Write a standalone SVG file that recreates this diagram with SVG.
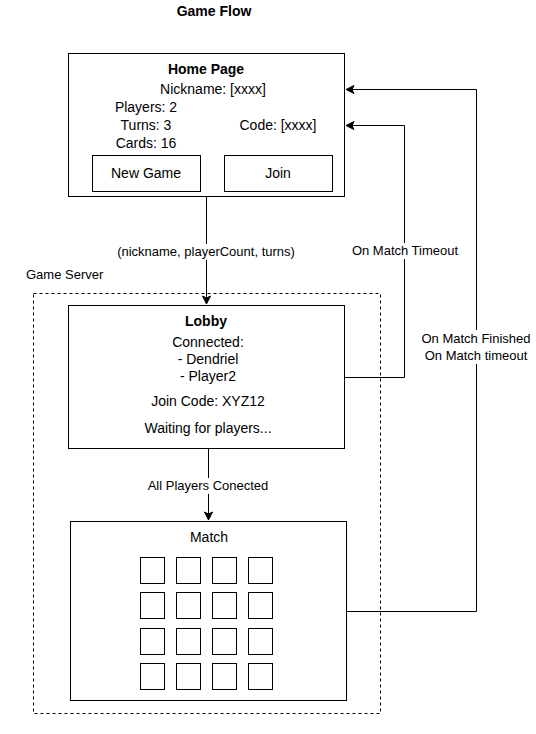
<svg xmlns="http://www.w3.org/2000/svg" width="536" height="734" viewBox="0 0 536 734">
<style>
text{font-family:"Liberation Sans",Arial,sans-serif;font-size:13px;fill:#000;text-anchor:middle}
.n text{font-size:14px}
.b{font-weight:bold}
.box{fill:#fff;stroke:#000;stroke-width:1}
.cell{fill:#fff;stroke:#000;stroke-width:1}
.ln{fill:none;stroke:#000;stroke-width:1}
.lbl{fill:#fff}
</style>
<defs>
<marker id="ar" markerWidth="10" markerHeight="10" refX="9" refY="5" orient="auto" markerUnits="userSpaceOnUse">
<path d="M1,1 L9,5 L1,9 L3,5 Z" fill="#000" stroke="#000"/>
</marker>
</defs>
<text class="b" x="214" y="16" style="font-size:14px">Game Flow</text>
<g id="game-server">
<rect x="33.5" y="293.5" width="347" height="420" fill="none" stroke="#000" stroke-dasharray="3 3"/>
<text x="26" y="279" style="text-anchor:start">Game Server</text>
</g>
<g id="home" class="n">
<rect class="box" x="68.5" y="53.5" width="276" height="143"/>
<text class="b" x="206" y="74">Home Page</text>
<text x="213" y="94">Nickname: [xxxx]</text>
<text x="146" y="112">Players: 2</text>
<text x="146" y="130">Turns: 3</text>
<text x="146" y="148">Cards: 16</text>
<text x="278" y="130">Code: [xxxx]</text>
<g id="btn-new"><rect class="box" x="92.5" y="155.5" width="108" height="36"/><text x="146" y="178">New Game</text></g>
<g id="btn-join"><rect class="box" x="224.5" y="155.5" width="108" height="36"/><text x="278" y="178">Join</text></g>
</g>
<g id="lobby" class="n">
<rect class="box" x="68.5" y="305.5" width="276" height="143"/>
<text class="b" x="206" y="326">Lobby</text>
<text x="208" y="347">Connected:</text>
<text x="208" y="364">- Dendriel</text>
<text x="208" y="381">- Player2</text>
<text x="208" y="406">Join Code: XYZ12</text>
<text x="208" y="433">Waiting for players...</text>
</g>
<g id="match" class="n">
<rect class="box" x="70.5" y="521.5" width="276" height="179"/>
<text x="209" y="542">Match</text>
<g>
<rect class="cell" x="140.5" y="557.5" width="24" height="26"/><rect class="cell" x="176.5" y="557.5" width="24" height="26"/><rect class="cell" x="212.5" y="557.5" width="24" height="26"/><rect class="cell" x="248.5" y="557.5" width="24" height="26"/>
<rect class="cell" x="140.5" y="592.5" width="24" height="26"/><rect class="cell" x="176.5" y="592.5" width="24" height="26"/><rect class="cell" x="212.5" y="592.5" width="24" height="26"/><rect class="cell" x="248.5" y="592.5" width="24" height="26"/>
<rect class="cell" x="140.5" y="628.5" width="24" height="26"/><rect class="cell" x="176.5" y="628.5" width="24" height="26"/><rect class="cell" x="212.5" y="628.5" width="24" height="26"/><rect class="cell" x="248.5" y="628.5" width="24" height="26"/>
<rect class="cell" x="140.5" y="663.5" width="24" height="26"/><rect class="cell" x="176.5" y="663.5" width="24" height="26"/><rect class="cell" x="212.5" y="663.5" width="24" height="26"/><rect class="cell" x="248.5" y="663.5" width="24" height="26"/>
</g>
</g>
<g id="connectors">
<path class="ln" d="M206.5,197 V304" marker-end="url(#ar)"/>
<path class="ln" d="M208.5,449 V520" marker-end="url(#ar)"/>
<path class="ln" d="M345,377.5 H404.5 V125.5 H346" marker-end="url(#ar)"/>
<path class="ln" d="M347,611.5 H476.5 V89.5 H346" marker-end="url(#ar)"/>
<rect class="lbl" x="113" y="244" width="186" height="16"/>
<text x="206" y="256">(nickname, playerCount, turns)</text>
<rect class="lbl" x="145" y="478" width="126" height="16"/>
<text x="208" y="490">All Players Conected</text>
<rect class="lbl" x="348" y="243" width="114" height="16"/>
<text x="405" y="255">On Match Timeout</text>
<rect class="lbl" x="418" y="330" width="118" height="34"/>
<text x="476" y="343">On Match Finished</text>
<text x="476" y="360">On Match timeout</text>
</g>
</svg>
